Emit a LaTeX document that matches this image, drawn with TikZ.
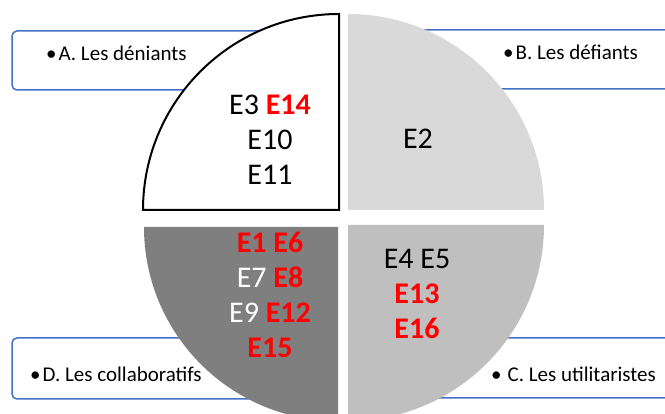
\documentclass[tikz,border=0pt]{standalone}
\usepackage{fontspec}
\setmainfont{Carlito}
\definecolor{boxblue}{HTML}{4472C4}
\definecolor{qlight}{HTML}{D9D9D9}
\definecolor{qmid}{HTML}{BFBFBF}
\definecolor{qdark}{HTML}{7F7F7F}
\definecolor{hot}{HTML}{FF0000}
\newcommand{\hl}[1]{\textbf{\color{hot}#1}}
\begin{document}
\begin{tikzpicture}[x=1pt,y=1pt,
  labelbox/.style={draw=boxblue,line width=1.5pt,rounded corners=5pt,fill=white},
  labeltext/.style={anchor=base west,inner sep=0pt,font=\fontsize{21}{25}\selectfont},
  bigtext/.style={align=center,inner sep=0pt,font=\fontsize{30}{35}\selectfont}]
\useasboundingbox (0,0) rectangle (665,414);
\clip (0,0) rectangle (665,414);
\fill[white] (0,0) rectangle (665,414);
% label boxes (behind the quadrants)
\draw[labelbox] (12,383) rectangle (330,324);
\draw[labelbox] (360,384) rectangle (690,325);
\draw[labelbox] (12,76) rectangle (330,15);
\draw[labelbox] (360,76) rectangle (690,16);
% quadrants
\filldraw[fill=white,draw=black,line width=2pt] (339,204) -- (143,204) arc[start angle=180,end angle=90,radius=196] -- cycle;
\fill[qlight] (348,204) -- (544,204) arc[start angle=0,end angle=90,radius=196] -- cycle;
\fill[qdark] (338,187) -- (144,187) arc[start angle=180,end angle=270,radius=194] -- cycle;
\fill[qmid] (348,189) -- (544,189) arc[start angle=0,end angle=-90,radius=196] -- cycle;
% labels
\node[labeltext] (la) at (46,353) {•\hspace{2pt}A. Les déniants};
\node[labeltext] (lb) at (503,354) {•\hspace{2pt}B. Les défiants};
\node[labeltext] (lc) at (491,32) {•\hspace{6pt}C. Les utilitaristes};
\node[labeltext] (ld) at (30,32) {•\hspace{2pt}D. Les collaboratifs};
% contents
\node[bigtext] (qa) at (270,274) {E3 \hl{E14}\\E10\\E11};
\node[bigtext] (qb) at (418,275) {E2};
\node[bigtext] (qd) at (270,119) {\hl{E1 E6}\\{\color{white}E7} \hl{E8}\\{\color{white}E9} \hl{E12}\\\hl{E15}};
\node[bigtext] (qc) at (417,120) {E4 E5\\\hl{E13}\\\hl{E16}};
\end{tikzpicture}
\end{document}
